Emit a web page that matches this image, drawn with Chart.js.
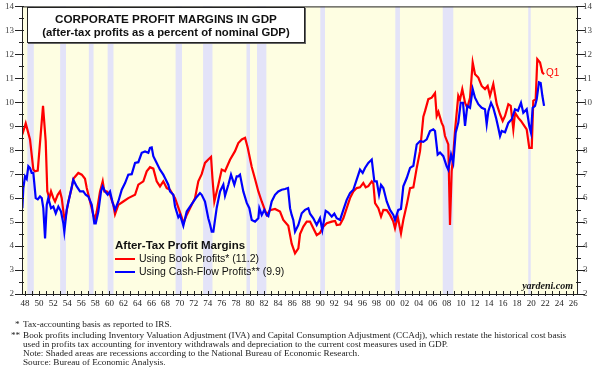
<!DOCTYPE html>
<html lang="en">
<head>
<meta charset="UTF-8" />
<title>Corporate Profit Margins in GDP</title>
<style>
  body { margin: 0; background: #fff; }
  #wrap { position: relative; width: 600px; height: 367px; overflow: hidden; }
  #chart { position: absolute; left: 0; top: 0; }
  .titlebox {
    position: absolute; left: 27px; top: 7px; width: 276px; height: 34px;
    background: #fff; border: 1px solid #222; box-shadow: 1px 1px 0 #666;
    font-family: 'Liberation Sans', Arial, sans-serif; font-weight: bold;
    text-align: center; color: #111;
  }
  .titlebox .t1 { font-size: 11.7px; line-height: 14px; margin-top: 4px; }
  .titlebox .t2 { font-size: 11.3px; line-height: 13px; }
  .legend { position: absolute; left: 115px; top: 238px; font-family: 'Liberation Sans', Arial, sans-serif; color: #111; }
  .legend .lt { font-weight: bold; font-size: 11.5px; line-height: 14px; }
  .legend .item { position: relative; font-size: 10.5px; line-height: 13px; padding-left: 24px; }
  .legend .item span { position: absolute; left: 0; top: 6px; width: 20px; height: 2px; }
  .q1 { position: absolute; left: 546px; top: 67px; font: 10px 'Liberation Sans', Arial, sans-serif; color: #f00; }
  .brand { position: absolute; right: 27px; top: 280px; font: italic bold 10px 'Liberation Serif', 'Times New Roman', serif; color: #111; }
  .notes { position: absolute; left: 0; top: 317px; font: 9.2px 'Liberation Serif', 'Times New Roman', serif; color: #222; }
  .notes div { position: absolute; white-space: nowrap; }
</style>
</head>
<body>
<div id="wrap">
  <canvas id="chart" width="600" height="367"></canvas>
  <div class="titlebox">
    <div class="t1">CORPORATE PROFIT MARGINS IN GDP</div>
    <div class="t2">(after-tax profits as a percent of nominal GDP)</div>
  </div>
  <div class="legend">
    <div class="lt">After-Tax Profit Margins</div>
    <div class="item"><span style="background:#f00"></span>Using Book Profits* (11.2)</div>
    <div class="item"><span style="background:#00f"></span>Using Cash-Flow Profits** (9.9)</div>
  </div>
  <div class="q1">Q1</div>
  <div class="brand">yardeni.com</div>
  <div class="notes">
    <div style="left:15px; top:2px">*</div>
    <div style="left:23px; top:2px">Tax-accounting basis as reported to IRS.</div>
    <div style="left:11px; top:13px">**</div>
    <div style="left:23px; top:13px">Book profits including Inventory Valuation Adjustment (IVA) and Capital Consumption Adjustment (CCAdj), which restate the historical cost basis</div>
    <div style="left:23px; top:22px">used in profits tax accounting for inventory withdrawals and depreciation to the current cost measures used in GDP.</div>
    <div style="left:23px; top:31px">Note: Shaded areas are recessions according to the National Bureau of Economic Research.</div>
    <div style="left:23px; top:40px">Source: Bureau of Economic Analysis.</div>
  </div>
</div>

<script src="https://cdn.jsdelivr.net/npm/chart.js"></script>
<script>
  // After-tax profits as % of nominal GDP
  const bookT = [1948.12, 1948.6, 1949.21, 1949.68, 1949.92, 1950.31, 1951.06, 1951.44, 1951.67, 1951.96,
    1952.2, 1952.53, 1952.77, 1953.15, 1953.48, 1953.72, 1954.05, 1954.19, 1954.66, 1955.14,
    1955.37, 1956.08, 1956.57, 1957.03, 1957.28, 1957.75, 1958.22, 1958.46, 1958.7, 1959.17,
    1959.55, 1959.78, 1960.12, 1960.59, 1961.06, 1961.3, 1961.77, 1962.48, 1963.19, 1964.15,
    1964.62, 1965.33, 1965.81, 1966.28, 1966.75, 1967.23, 1967.7, 1968.17, 1968.66, 1969.13,
    1969.84, 1970.31, 1970.79, 1971.02, 1971.5, 1972.21, 1972.68, 1973.15, 1973.63, 1974.1,
    1974.57, 1974.96, 1975.17, 1975.43, 1976.0, 1976.48, 1976.95, 1977.66, 1978.37, 1978.84,
    1979.33, 1979.8, 1980.18, 1980.75, 1981.22, 1981.69, 1982.17, 1982.88, 1983.35, 1984.06,
    1984.77, 1985.24, 1985.95, 1986.43, 1986.91, 1987.38, 1987.62, 1988.09, 1988.57, 1989.04,
    1989.51, 1989.99, 1990.46, 1990.93, 1991.42, 1992.13, 1992.6, 1992.84, 1993.31, 1993.78,
    1994.26, 1994.73, 1995.2, 1995.68, 1996.15, 1996.62, 1996.96, 1997.33, 1997.82, 1998.05,
    1998.29, 1998.76, 1999.14, 1999.47, 1999.95, 2000.42, 2000.89, 2001.13, 2001.51, 2001.98,
    2002.31, 2002.8, 2003.27, 2003.74, 2004.22, 2004.69, 2005.16, 2005.4, 2005.87, 2006.35,
    2006.82, 2007.06, 2007.3, 2007.77, 2008.0, 2008.24, 2008.71, 2008.95, 2009.19, 2009.42,
    2009.66, 2010.13, 2010.37, 2010.7, 2011.09, 2011.41, 2011.8, 2012.18, 2012.51, 2012.98,
    2013.46, 2013.93, 2014.31, 2014.64, 2015.11, 2015.6, 2016.07, 2016.45, 2016.78, 2017.25,
    2017.59, 2017.96, 2018.2, 2018.67, 2019.05, 2019.38, 2019.86, 2020.23, 2020.58, 2020.8,
    2021.14, 2021.37, 2021.76, 2022.09, 2022.33];
  const bookV = [8.66, 9.12, 8.45, 7.19, 7.12, 7.15, 9.85, 8.38, 6.28, 6.0,
    6.28, 6.0, 5.86, 6.14, 6.28, 6.0, 5.23, 5.09, 5.86, 6.42,
    6.81, 7.05, 6.98, 6.81, 6.42, 5.86, 5.3, 5.09, 5.44, 6.28,
    6.7, 6.28, 6.28, 6.14, 5.72, 5.33, 5.72, 5.86, 6.0, 6.14,
    6.56, 6.7, 7.12, 7.29, 7.23, 6.7, 6.49, 6.7, 6.42, 6.35,
    6.0, 5.6, 5.2, 4.95, 5.3, 5.72, 6.0, 6.7, 7.0, 7.47,
    7.61, 7.72, 6.8, 5.86, 6.56, 7.19, 7.12, 7.6, 7.96, 8.3,
    8.45, 8.52, 8.1, 7.3, 6.8, 6.28, 5.86, 5.3, 5.5, 5.55,
    5.44, 5.09, 4.85, 4.1, 3.7, 3.9, 4.5, 4.81, 5.02, 5.02,
    4.74, 4.46, 4.55, 4.81, 4.95, 5.02, 5.05, 4.88, 4.9, 5.16,
    5.58, 6.0, 6.28, 6.42, 6.45, 6.63, 6.45, 6.5, 6.7, 6.6,
    5.79, 5.58, 5.23, 5.51, 5.5, 5.3, 5.02, 4.74, 5.23, 4.53,
    5.09, 5.72, 6.42, 6.45, 7.26, 7.96, 9.4, 9.63, 10.13, 10.19,
    10.38, 9.43, 9.6, 9.14, 9.0, 8.59, 8.24, 4.88, 7.12, 7.82,
    8.8, 10.27, 10.1, 10.55, 9.98, 9.77, 10.19, 11.66, 11.17, 11.03,
    10.68, 10.55, 10.68, 10.27, 10.76, 9.92, 9.5, 9.22, 9.43, 9.92,
    9.85, 8.87, 9.56, 9.35, 9.22, 9.08, 8.87, 8.1, 8.1, 10.06,
    10.13, 11.8, 11.66, 11.24, 11.17];

  const cashT = [1948.12, 1948.26, 1948.5, 1948.74, 1948.97, 1949.21, 1949.45, 1949.68, 1950.02, 1950.31,
    1950.63, 1950.88, 1951.1, 1951.35, 1951.59, 1951.81, 1952.2, 1952.53, 1952.87, 1953.24,
    1953.62, 1953.95, 1954.09, 1954.43, 1954.9, 1955.37, 1955.85, 1956.32, 1956.79, 1957.13,
    1957.5, 1957.99, 1958.36, 1958.56, 1958.93, 1959.31, 1959.55, 1959.88, 1960.26, 1960.59,
    1960.92, 1961.3, 1961.77, 1962.26, 1962.73, 1963.19, 1963.68, 1964.15, 1964.62, 1965.1,
    1965.57, 1966.04, 1966.28, 1966.52, 1966.75, 1967.23, 1967.7, 1968.17, 1968.41, 1968.88,
    1969.13, 1969.6, 1969.84, 1970.31, 1970.55, 1971.02, 1971.5, 1972.21, 1972.92, 1973.39,
    1973.63, 1974.1, 1974.57, 1974.82, 1975.06, 1975.29, 1975.77, 1976.24, 1976.71, 1976.95,
    1977.42, 1977.8, 1978.27, 1978.61, 1978.84, 1979.08, 1979.55, 1980.04, 1980.41, 1980.75,
    1981.22, 1981.69, 1981.83, 1982.17, 1982.54, 1982.88, 1983.11, 1983.59, 1984.06, 1984.53,
    1985.01, 1985.48, 1985.91, 1986.2, 1986.43, 1986.66, 1986.91, 1987.38, 1987.86, 1988.33,
    1988.8, 1989.04, 1989.51, 1989.99, 1990.46, 1990.79, 1991.27, 1991.64, 1992.13, 1992.5,
    1992.84, 1993.31, 1993.78, 1994.26, 1994.73, 1995.2, 1995.68, 1996.15, 1996.53, 1996.86,
    1997.33, 1997.82, 1998.19, 1998.53, 1998.86, 1999.14, 1999.47, 1999.95, 2000.42, 2000.89,
    2001.13, 2001.6, 2001.98, 2002.31, 2002.8, 2003.27, 2003.74, 2004.22, 2004.69, 2005.16,
    2005.64, 2006.11, 2006.58, 2006.82, 2007.2, 2007.53, 2008.0, 2008.48, 2008.71, 2009.1,
    2009.42, 2009.76, 2010.13, 2010.47, 2010.8, 2011.09, 2011.41, 2011.8, 2012.18, 2012.51,
    2012.98, 2013.46, 2013.93, 2014.17, 2014.41, 2014.79, 2015.11, 2015.5, 2015.82, 2016.07,
    2016.31, 2016.78, 2017.25, 2017.73, 2018.2, 2018.62, 2019.05, 2019.38, 2019.86, 2020.23,
    2020.47, 2020.71, 2021.05, 2021.29, 2021.61, 2021.85, 2022.09, 2022.33];
  const cashV = [5.58, 6.42, 6.91, 6.8, 7.33, 7.25, 7.05, 7.05, 6.0, 5.95,
    6.07, 6.0, 5.58, 4.32, 5.72, 6.0, 5.58, 5.65, 5.37, 5.65,
    5.44, 4.95, 4.6, 5.51, 6.14, 6.77, 6.49, 6.28, 6.28, 6.14,
    6.07, 5.72, 4.95, 4.95, 5.44, 6.28, 6.49, 6.28, 6.14, 6.28,
    5.86, 5.51, 5.86, 6.35, 6.63, 6.98, 7.0, 7.47, 7.5, 7.89,
    7.95, 7.89, 8.1, 8.12, 7.75, 7.47, 7.19, 6.98, 6.84, 6.56,
    6.28, 6.14, 5.65, 5.2, 5.3, 4.85, 5.44, 5.75, 6.05, 6.21,
    6.14, 5.86, 5.16, 4.9, 4.6, 4.6, 5.6, 6.28, 6.56, 6.1,
    6.56, 6.98, 6.56, 6.91, 6.91, 6.98, 6.28, 5.8, 5.58, 5.09,
    5.02, 5.16, 5.58, 5.3, 5.51, 5.3, 5.25, 5.86, 6.14, 6.28,
    6.35, 6.38, 6.42, 5.58, 5.3, 5.09, 4.6, 4.88, 5.37, 5.51,
    5.58, 5.35, 5.16, 4.88, 5.16, 4.67, 5.47, 5.4, 5.23, 5.35,
    5.16, 5.09, 5.51, 5.93, 6.21, 6.35, 6.77, 7.19, 7.05, 7.26,
    7.47, 7.61, 6.7, 6.7, 6.14, 6.55, 6.42, 5.86, 5.51, 5.3,
    5.09, 5.51, 5.55, 6.49, 6.84, 7.26, 7.35, 8.24, 8.38, 8.35,
    8.45, 8.8, 8.87, 8.8, 7.82, 7.9, 7.75, 7.33, 7.19, 7.82,
    7.47, 8.73, 9.14, 9.98, 9.98, 9.01, 9.85, 9.77, 10.55, 10.19,
    9.92, 9.77, 9.71, 9.08, 9.63, 9.98, 9.77, 9.35, 8.94, 8.59,
    8.8, 8.75, 9.14, 9.29, 9.71, 9.65, 9.98, 9.56, 9.71, 9.01,
    8.73, 9.77, 9.85, 10.13, 10.83, 10.8, 10.27, 9.85];

  // NBER recessions, peak to trough
  const recessions = [[1948.83, 1949.75], [1953.5, 1954.33], [1957.58, 1958.25], [1960.25, 1961.08],
    [1969.92, 1970.83], [1973.83, 1975.17], [1980.0, 1980.5], [1981.5, 1982.83],
    [1990.5, 1991.17], [2001.17, 2001.83], [2007.92, 2009.42], [2020.08, 2020.25]];

  const tickYears = [1948, 1950, 1952, 1954, 1956, 1958, 1960, 1962, 1964, 1966, 1968, 1970, 1972, 1974,
    1976, 1978, 1980, 1982, 1984, 1986, 1988, 1990, 1992, 1994, 1996, 1998, 2000, 2002, 2004,
    2006, 2008, 2010, 2012, 2014, 2016, 2018, 2020, 2022, 2024, 2026];

  const toPoints = (t, v) => t.map((x, i) => ({ x: x, y: v[i] }));

  const frame = {
    id: 'frame',
    beforeDatasetsDraw(chart) {
      const { ctx, chartArea: a, scales: { x } } = chart;
      ctx.save();
      ctx.fillStyle = '#fefee2';
      ctx.fillRect(a.left, a.top, a.right - a.left, a.bottom - a.top);
      ctx.fillStyle = '#e3e3f8';
      recessions.forEach(([s, e]) => {
        const x0 = x.getPixelForValue(s), x1 = x.getPixelForValue(e);
        ctx.fillRect(x0, a.top, Math.max(x1 - x0, 2.5), a.bottom - a.top);
      });
      ctx.restore();
    },
    afterDatasetsDraw(chart) {
      const { ctx, chartArea: a, scales: { x, y } } = chart;
      ctx.save();
      ctx.strokeStyle = '#222';
      ctx.lineWidth = 1;
      ctx.strokeRect(a.left + 0.5, a.top + 0.5, a.right - a.left - 1, a.bottom - a.top);
      ctx.beginPath();
      // year ticks on the bottom axis
      for (let yr = 1948; yr <= 2026; yr++) {
        const px = Math.round(x.getPixelForValue(yr + 0.5)) + 0.5;
        ctx.moveTo(px, a.bottom - 3);
        ctx.lineTo(px, a.bottom + 2);
      }
      // y ticks on both sides
      for (let v = 2; v <= 14; v += 0.5) {
        const py = Math.round(y.getPixelForValue(v)) + 0.5;
        const len = Number.isInteger(v) ? 7 : 3;
        ctx.moveTo(a.left - len, py); ctx.lineTo(a.left + 2, py);
        ctx.moveTo(a.right - 2, py); ctx.lineTo(a.right + len, py);
      }
      ctx.stroke();
      ctx.restore();
    }
  };

  new Chart(document.getElementById('chart'), {
    type: 'line',
    data: {
      datasets: [
        { label: 'Using Book Profits* (11.2)', data: toPoints(bookT, bookV), borderColor: '#ff0000', borderWidth: 2.2, pointRadius: 0, order: 1 },
        { label: 'Using Cash-Flow Profits** (9.9)', data: toPoints(cashT, cashV), borderColor: '#0000ff', borderWidth: 2.2, pointRadius: 0, order: 0 }
      ]
    },
    options: {
      responsive: false,
      animation: false,
      layout: { padding: { top: 6 } },
      plugins: { legend: { display: false }, tooltip: { enabled: false } },
      scales: {
        x: {
          type: 'linear', min: 1948.07, max: 2027.16,
          afterBuildTicks: s => { s.ticks = tickYears.map(yr => ({ value: yr + 0.5 })); },
          afterFit: s => { s.height = 73; },
          grid: { display: false, drawTicks: false },
          border: { display: false },
          ticks: {
            autoSkip: false, maxRotation: 0, padding: 4, color: '#222',
            font: { family: "'Liberation Serif', serif", size: 9 },
            callback: v => String(Math.floor(v) % 100).padStart(2, '0')
          }
        },
        y: {
          position: 'left', min: 2, max: 14,
          afterFit: s => { s.width = 22; },
          grid: { display: false, drawTicks: true, tickLength: 7 },
          border: { display: false },
          ticks: { stepSize: 1, padding: 1, color: '#444', font: { family: "'Liberation Serif', serif", size: 9 } }
        },
        y2: {
          position: 'right', min: 2, max: 14,
          afterFit: s => { s.width = 22; },
          grid: { display: false, drawTicks: true, tickLength: 5 },
          border: { display: false },
          ticks: { stepSize: 1, padding: 0, color: '#444', font: { family: "'Liberation Serif', serif", size: 9 } }
        }
      }
    },
    plugins: [frame]
  });
</script>
</body>
</html>
